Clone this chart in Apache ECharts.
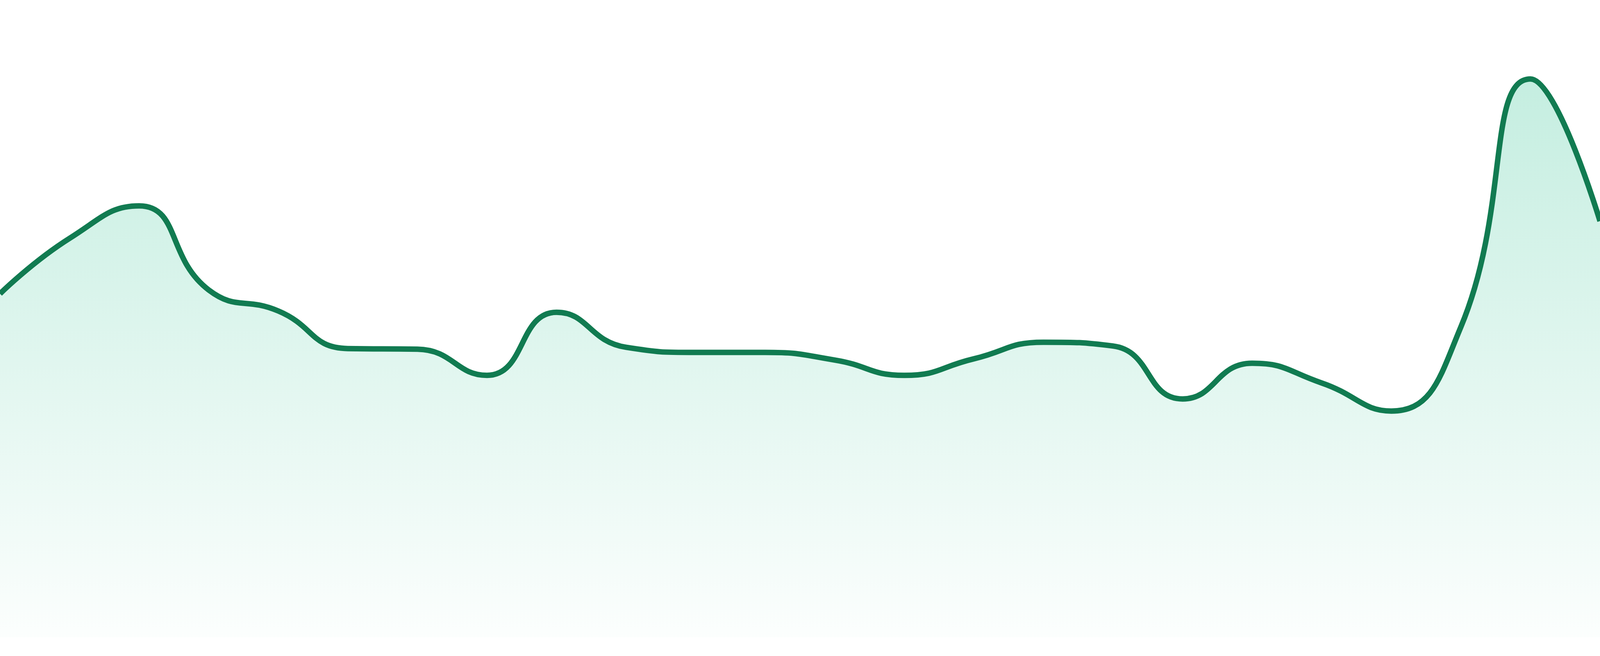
<!DOCTYPE html>
<html>
<head>
<meta charset="utf-8">
<script src="https://cdn.jsdelivr.net/npm/echarts@6/dist/echarts.min.js"></script>
<style>
  html, body { margin: 0; padding: 0; background: #ffffff; width: 100%; height: 100%; overflow: hidden; }
  #chart { width: 100vw; height: 100vh; }
</style>
</head>
<body>
<div id="chart"></div>
<script>
const categories = ['00:00','01:00','02:00','03:00','04:00','05:00','06:00','07:00','08:00','09:00','10:00','11:00',
                    '12:00','13:00','14:00','15:00','16:00','17:00','18:00','19:00','20:00','21:00','22:00','23:00'];
const values = [53.9, 62.6, 67.7, 54.5, 51.2, 45.3, 45.2, 41.1, 51.0, 45.5, 44.7, 44.7,
                43.5, 41.1, 43.7, 46.3, 45.7, 37.4, 43.0, 39.9, 35.5, 48.7, 87.6, 65.3];
const yMin = 0;
const yMax = 100;

const chart = echarts.init(document.getElementById('chart'));
chart.setOption({
  backgroundColor: '#ffffff',
  animation: false,
  grid: { left: 0, right: 0, top: 0, bottom: '2.857%' },
  xAxis: {
    type: 'category',
    data: categories,
    boundaryGap: false,
    show: false
  },
  yAxis: {
    type: 'value',
    min: yMin,
    max: yMax,
    show: false
  },
  series: [{
    type: 'line',
    data: values,
    smooth: true,
    symbol: 'none',
    lineStyle: { color: '#117b51', width: 14 },
    areaStyle: {
      color: new echarts.graphic.LinearGradient(0, 0, 0, 1, [
        { offset: 0, color: 'rgba(16,185,129,0.35)' },
        { offset: 1, color: 'rgba(16,185,129,0.02)' }
      ])
    }
  }]
});
window.addEventListener('resize', () => chart.resize());
</script>
</body>
</html>
